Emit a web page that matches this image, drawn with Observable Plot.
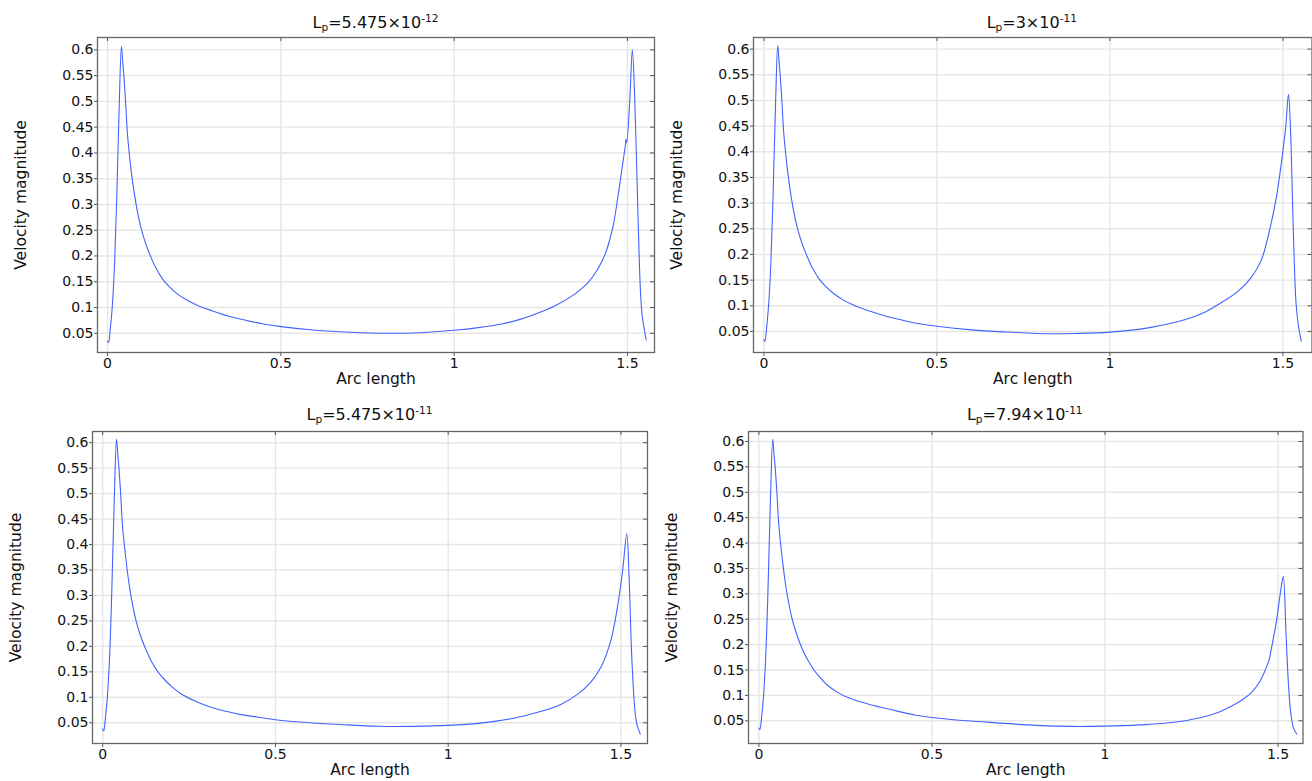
<!DOCTYPE html>
<html>
<head>
<meta charset="utf-8">
<script src="https://cdn.jsdelivr.net/npm/d3@7"></script>
<script src="https://cdn.jsdelivr.net/npm/@observablehq/plot@0.6"></script>
<style>
  html, body { margin: 0; padding: 0; background: #fff; }
  #root { position: relative; width: 1312px; height: 781px; overflow: hidden; background: #fff; }
  .ttl { position: absolute; text-align: center; font-family: "DejaVu Sans", sans-serif; font-size: 16px; line-height: 20px; color: #111; white-space: nowrap; }
  .ttl sub, .ttl sup { font-size: 0.66em; line-height: 0; }
  .ttl sub { vertical-align: -0.25em; }
  .ttl sup { vertical-align: 0.6em; }
</style>
</head>
<body>
<div id="root"></div>
<script>
// ---- Tick labels and axis text ----
const xTicks = [0, 0.5, 1, 1.5];
const yTicks = [0.05, 0.1, 0.15, 0.2, 0.25, 0.3, 0.35, 0.4, 0.45, 0.5, 0.55, 0.6];
const xLabel = "Arc length";
const yLabel = "Velocity magnitude";
const titleMantissa = ["5.475", "3", "5.475", "7.94"];
const titleExponent = ["-12", "-11", "-11", "-11"];

// ---- Panel 1: Lp = 5.475e-12 ----
const arcA = [0, 0.003, 0.008, 0.0135, 0.02, 0.026, 0.034, 0.040, 0.044, 0.047, 0.052, 0.057, 0.0625, 0.07, 0.078, 0.087, 0.097, 0.11, 0.125, 0.14, 0.16, 0.18, 0.2, 0.23, 0.26, 0.3, 0.35, 0.4, 0.45, 0.5, 0.6, 0.7, 0.8, 0.9, 1.0, 1.07, 1.137, 1.19, 1.233, 1.29, 1.348, 1.37, 1.387, 1.41, 1.425, 1.438, 1.449, 1.46, 1.468, 1.483, 1.494, 1.496, 1.498, 1.507, 1.514, 1.521, 1.529, 1.537, 1.542, 1.548, 1.554];
const velA = [0.035, 0.032, 0.06, 0.1, 0.18, 0.3, 0.5, 0.607, 0.575, 0.55, 0.5, 0.44, 0.4, 0.355, 0.318, 0.283, 0.253, 0.224, 0.198, 0.176, 0.154, 0.139, 0.127, 0.114, 0.104, 0.094, 0.083, 0.075, 0.068, 0.063, 0.056, 0.052, 0.05, 0.051, 0.0558, 0.061, 0.068, 0.077, 0.087, 0.103, 0.126, 0.138, 0.149, 0.17, 0.188, 0.208, 0.232, 0.263, 0.295, 0.364, 0.415, 0.427, 0.42, 0.506, 0.600, 0.506, 0.313, 0.139, 0.087, 0.06, 0.037];

// ---- Panel 2: Lp = 3e-11 ----
const arcB = [0, 0.003, 0.008, 0.0135, 0.02, 0.026, 0.034, 0.040, 0.044, 0.047, 0.052, 0.057, 0.0625, 0.07, 0.078, 0.087, 0.097, 0.11, 0.125, 0.14, 0.16, 0.18, 0.2, 0.23, 0.26, 0.3, 0.35, 0.4, 0.45, 0.5, 0.6, 0.7, 0.83, 0.9, 1.0, 1.119, 1.216, 1.274, 1.331, 1.37, 1.408, 1.437, 1.461, 1.481, 1.495, 1.508, 1.516, 1.522, 1.53, 1.538, 1.545, 1.553];
const velB = [0.034, 0.031, 0.058, 0.1, 0.18, 0.3, 0.5, 0.607, 0.575, 0.55, 0.5, 0.44, 0.4, 0.355, 0.316, 0.281, 0.251, 0.222, 0.196, 0.174, 0.152, 0.137, 0.125, 0.111, 0.101, 0.091, 0.080, 0.072, 0.065, 0.06, 0.053, 0.049, 0.0455, 0.046, 0.0487, 0.058, 0.0727, 0.0876, 0.110, 0.128, 0.155, 0.188, 0.246, 0.311, 0.376, 0.448, 0.512, 0.441, 0.246, 0.104, 0.06, 0.031];

// ---- Panel 3: Lp = 5.475e-11 ----
const arcC = [0, 0.003, 0.008, 0.0135, 0.02, 0.026, 0.034, 0.040, 0.044, 0.047, 0.052, 0.057, 0.0625, 0.07, 0.078, 0.087, 0.097, 0.11, 0.125, 0.14, 0.16, 0.18, 0.2, 0.231, 0.27, 0.316, 0.36, 0.4, 0.45, 0.5, 0.6, 0.7, 0.8, 0.9, 1.0, 1.093, 1.19, 1.267, 1.326, 1.374, 1.413, 1.442, 1.471, 1.49, 1.505, 1.517, 1.524, 1.531, 1.539, 1.543, 1.547, 1.556];
const velC = [0.038, 0.034, 0.06, 0.1, 0.18, 0.3, 0.5, 0.607, 0.575, 0.55, 0.5, 0.44, 0.4, 0.355, 0.315, 0.28, 0.249, 0.22, 0.194, 0.172, 0.15, 0.134, 0.121, 0.105, 0.092, 0.08, 0.072, 0.066, 0.061, 0.056, 0.05, 0.046, 0.0432, 0.043, 0.0448, 0.0493, 0.059, 0.072, 0.086, 0.1057, 0.13, 0.159, 0.212, 0.277, 0.349, 0.421, 0.33, 0.186, 0.087, 0.06, 0.045, 0.028];

// ---- Panel 4: Lp = 7.94e-11 ----
const arcD = [0, 0.003, 0.008, 0.0135, 0.02, 0.026, 0.034, 0.040, 0.044, 0.047, 0.052, 0.057, 0.0625, 0.07, 0.078, 0.087, 0.097, 0.11, 0.125, 0.14, 0.16, 0.18, 0.2, 0.225, 0.25, 0.3, 0.35, 0.4, 0.45, 0.5, 0.6, 0.7, 0.8, 0.9, 1.0, 1.1, 1.2, 1.278, 1.3, 1.33, 1.35, 1.374, 1.4, 1.422, 1.445, 1.46, 1.47, 1.475, 1.48, 1.494, 1.509, 1.515, 1.523, 1.53, 1.537, 1.545, 1.554];
const velD = [0.036, 0.033, 0.058, 0.1, 0.18, 0.3, 0.5, 0.605, 0.573, 0.55, 0.5, 0.44, 0.4, 0.355, 0.314, 0.279, 0.248, 0.219, 0.192, 0.171, 0.149, 0.133, 0.119, 0.107, 0.098, 0.086, 0.077, 0.069, 0.0615, 0.0565, 0.05, 0.0455, 0.041, 0.039, 0.0395, 0.042, 0.047, 0.0566, 0.0605, 0.0675, 0.0735, 0.082, 0.093, 0.105, 0.125, 0.145, 0.162, 0.172, 0.19, 0.241, 0.313, 0.334, 0.221, 0.122, 0.063, 0.035, 0.024];

// ---- Layout (frame edges in page pixels) and axis limits ----
const panels = [
  {arc: arcA, vel: velA, frame: [97, 654, 37, 352],    xDomain: [-0.029, 1.578], yDomain: [0.0127, 0.624]},
  {arc: arcB, vel: velB, frame: [752.5, 1311, 37, 352], xDomain: [-0.030, 1.584], yDomain: [0.009, 0.6226]},
  {arc: arcC, vel: velC, frame: [92, 647, 431, 743],   xDomain: [-0.0295, 1.577], yDomain: [0.0093, 0.622]},
  {arc: arcD, vel: velD, frame: [747.5, 1302, 431, 743], xDomain: [-0.030, 1.572], yDomain: [0.0053, 0.6197]}
];

const root = document.getElementById("root");
const ML = 97, MT = 37, MR = 4, MB = 40;

panels.forEach((p, i) => {
  const [fl, fr, ft, fb] = p.frame;
  const W = fr - fl, H = fb - ft;
  const data = p.arc.map((a, k) => ({arc: a, vel: p.vel[k]}));
  const chart = Plot.plot({
    width: W + ML + MR,
    height: H + MT + MB,
    marginLeft: ML, marginTop: MT, marginRight: MR, marginBottom: MB,
    x: {domain: p.xDomain},
    y: {domain: p.yDomain},
    style: {background: "transparent", fontFamily: "DejaVu Sans, sans-serif", fontSize: "14px", color: "#111", overflow: "visible"},
    marks: [
      Plot.gridX(xTicks, {stroke: "#e6e6e6", strokeOpacity: 1, strokeWidth: 1.4}),
      Plot.gridY(yTicks, {stroke: "#e6e6e6", strokeOpacity: 1, strokeWidth: 1.4}),
      Plot.line(data, {x: "arc", y: "vel", stroke: "#4262ff", strokeWidth: 1.1, curve: "catmull-rom"}),
      Plot.axisX(xTicks, {anchor: "bottom", tickSize: 4, tickPadding: 2, label: null, tickFormat: d => String(d), stroke: "#555"}),
      Plot.axisY(yTicks, {anchor: "left", tickSize: 3, tickPadding: 1, label: null, tickFormat: d => String(d), stroke: "#555"}),
      Plot.tickX(xTicks, {x: d => d, insetBottom: H - 4, stroke: "#555"}),
      Plot.tickY(yTicks, {y: d => d, insetLeft: W - 4, stroke: "#555"}),
      Plot.frame({stroke: "#666", strokeWidth: 1.3}),
      Plot.text([xLabel], {frameAnchor: "bottom", dy: 27, lineAnchor: "middle", textAnchor: "middle", fontSize: 15.5, fill: "#111"}),
      Plot.text([yLabel], {frameAnchor: "left", dx: -76, rotate: -90, textAnchor: "middle", lineAnchor: "middle", fontSize: 15.5, fill: "#111"})
    ]
  });
  chart.style.position = "absolute";
  chart.style.left = (fl - ML) + "px";
  chart.style.top = (ft - MT) + "px";
  chart.style.maxWidth = "none";
  root.appendChild(chart);

  const t = document.createElement("div");
  t.className = "ttl";
  t.style.left = fl + "px";
  t.style.width = W + "px";
  t.style.top = (ft - (i < 2 ? 24 : 26)) + "px";
  t.append("L");
  const sub = document.createElement("sub"); sub.textContent = "p"; t.append(sub);
  t.append("=" + titleMantissa[i] + "\u00D710");
  const sup = document.createElement("sup"); sup.textContent = titleExponent[i]; t.append(sup);
  root.appendChild(t);
});
</script>
</body>
</html>
